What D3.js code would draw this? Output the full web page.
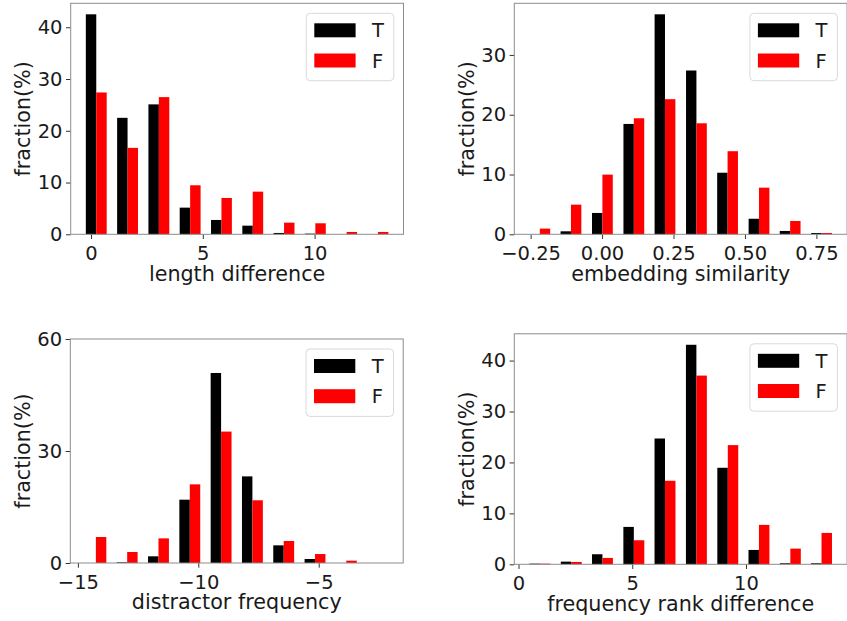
<!DOCTYPE html>
<html>
<head>
<meta charset="utf-8">
<script src="https://cdn.jsdelivr.net/npm/d3@7"></script>
<style>
  html, body { margin: 0; padding: 0; background: #fff; }
  svg { display: block; font-family: "DejaVu Sans", sans-serif; }
</style>
</head>
<body>
<svg id="chart" width="847" height="621"></svg>
<script>
// ---------------- DATA ----------------
const seriesNames = ["T", "F"];

// Panel 1: length difference
const lenLabel = "length difference";
const lenEdges = [0, 1.4, 2.8, 4.2, 5.6, 7.0, 8.4, 9.8, 11.2, 12.6];
const lenT = [42.5, 22.5, 25.1, 5.15, 2.77, 1.67, 0.26, 0.13, 0, 0];
const lenF = [27.4, 16.7, 26.5, 9.47, 7.02, 8.24, 2.25, 2.13, 0.45, 0.45];
const lenXTicks = [0, 5, 10];
const lenYTicks = [0, 10, 20, 30, 40];

// Panel 2: embedding similarity
const embLabel = "embedding similarity";
const embEdges = [-0.236, -0.127, -0.017, 0.093, 0.202, 0.312, 0.421, 0.531, 0.640, 0.750];
const embT = [0, 0.5, 3.57, 18.46, 36.8, 27.4, 10.3, 2.6, 0.56, 0.22];
const embF = [0.95, 4.96, 9.98, 19.41, 22.6, 18.57, 13.9, 7.8, 2.23, 0.22];
const embXTicks = [-0.25, 0, 0.25, 0.5, 0.75];
const embYTicks = [0, 10, 20, 30];

// Panel 3: distractor frequency
const disLabel = "distractor frequency";
const disEdges = [-14.47, -13.17, -11.87, -10.57, -9.27, -7.97, -6.67, -5.37, -4.07, -2.77];
const disT = [0, 0.18, 1.79, 16.96, 50.9, 23.2, 4.73, 1.07, 0, 0];
const disF = [6.96, 2.95, 6.6, 21.07, 35.2, 16.8, 5.9, 2.4, 0.63, 0];
const disXTicks = [-15, -10, -5];
const disYTicks = [0, 30, 60];
const disYMax = 60;

// Panel 4: frequency rank difference
const rankLabel = "frequency rank difference";
const rankEdges = [0.71, 2.09, 3.46, 4.84, 6.21, 7.59, 8.97, 10.34, 11.72, 13.09];
const rankT = [0.13, 0.52, 1.97, 7.34, 24.7, 43.1, 18.95, 2.82, 0.2, 0.2];
const rankF = [0.13, 0.46, 1.25, 4.72, 16.4, 37.05, 23.4, 7.74, 3.08, 6.16];
const rankXTicks = [0, 5, 10];
const rankYTicks = [0, 10, 20, 30, 40];

const yLabel = "fraction(%)";

// ---------------- LAYOUT / STYLE ----------------
const colors = { T: "#000000", F: "#ff0000" };
const tickFont = 19.5, labelFont = 20.7, legendFont = 19.5;

const panels = [
  { edges: lenEdges, T: lenT, F: lenF, xTicks: lenXTicks, yTicks: lenYTicks, xLabel: lenLabel,
    fmt: d3.format("d"), box: { l: 70.7, t: 3.3, r: 403.5, b: 234.3 } },
  { edges: embEdges, T: embT, F: embF, xTicks: embXTicks, yTicks: embYTicks, xLabel: embLabel,
    fmt: d3.format(".2f"), box: { l: 514.3, t: 3.3, r: 847.1, b: 234.3 } },
  { edges: disEdges, T: disT, F: disF, xTicks: disXTicks, yTicks: disYTicks, xLabel: disLabel, yMax: disYMax,
    fmt: d3.format("d"), box: { l: 70.3, t: 339, r: 403.2, b: 563 } },
  { edges: rankEdges, T: rankT, F: rankF, xTicks: rankXTicks, yTicks: rankYTicks, xLabel: rankLabel,
    fmt: d3.format("d"), box: { l: 514.3, t: 333.8, r: 847.1, b: 564.3 } }
];

const svg = d3.select("#chart");

panels.forEach(p => {
  const b = p.box;
  const step = p.edges[1] - p.edges[0];
  const w = step / 3;
  const lo = p.edges[0] - w / 2;
  const hi = p.edges[p.edges.length - 1] + 1.5 * w;
  const pad = (hi - lo) * 0.05;
  const x = d3.scaleLinear().domain([lo - pad, hi + pad]).range([b.l, b.r]);
  const maxV = d3.max(p.T.concat(p.F));
  const y = d3.scaleLinear().domain([0, p.yMax != null ? p.yMax : maxV * 1.05]).range([b.b, b.t]);

  const g = svg.append("g");

  // bars
  const data = p.edges.map((e, i) => ({ e, T: p.T[i], F: p.F[i] }));
  g.selectAll("rect.t").data(data).join("rect")
    .attr("x", d => x(d.e - w / 2))
    .attr("width", d => x(d.e + w / 2) - x(d.e - w / 2))
    .attr("y", d => y(d.T))
    .attr("height", d => y(0) - y(d.T))
    .attr("fill", colors.T);
  g.selectAll("rect.f").data(data).join("rect")
    .attr("x", d => x(d.e + w / 2))
    .attr("width", d => x(d.e + 1.5 * w) - x(d.e + w / 2))
    .attr("y", d => y(d.F))
    .attr("height", d => y(0) - y(d.F))
    .attr("fill", colors.F);

  // axes
  const xAxis = d3.axisBottom(x).tickValues(p.xTicks).tickFormat(p.fmt).tickSize(4.7).tickPadding(7.2);
  const yAxis = d3.axisLeft(y).tickValues(p.yTicks).tickFormat(d3.format("d")).tickSize(4.7).tickPadding(3.5);
  const gx = g.append("g").attr("transform", `translate(0,${b.b})`).call(xAxis);
  const gy = g.append("g").attr("transform", `translate(${b.l},0)`).call(yAxis);
  [gx, gy].forEach(ax => {
    ax.select(".domain").remove();
    ax.selectAll(".tick line").attr("stroke", "#333").attr("stroke-width", 1);
    ax.selectAll(".tick text").attr("fill", "#1a1a1a").style("font-size", tickFont + "px")
      .style("font-family", "DejaVu Sans");
  });

  // frame
  g.append("rect")
    .attr("x", b.l).attr("y", b.t)
    .attr("width", b.r - b.l).attr("height", b.b - b.t)
    .attr("fill", "none").attr("stroke", "#8c8c8c").attr("stroke-width", 1);

  // labels
  g.append("text")
    .attr("x", (b.l + b.r) / 2).attr("y", b.b + 46.4)
    .attr("text-anchor", "middle").attr("fill", "#1a1a1a")
    .style("font-size", labelFont + "px")
    .text(p.xLabel);
  g.append("text")
    .attr("transform", `translate(${b.l - 48},${(b.t + b.b) / 2}) rotate(-90)`)
    .attr("text-anchor", "middle").attr("dy", "0.35em").attr("fill", "#1a1a1a")
    .style("font-size", labelFont + "px")
    .text(yLabel);

  // legend
  const lw = 87.5, lh = 67.4;
  const lx = b.r - 9.7 - lw, ly = b.t + 10;
  const lg = g.append("g");
  lg.append("rect").attr("x", lx).attr("y", ly).attr("width", lw).attr("height", lh)
    .attr("rx", 4).attr("fill", "#fff").attr("fill-opacity", 0.8)
    .attr("stroke", "#d9d9d9").attr("stroke-width", 1);
  seriesNames.forEach((s, i) => {
    const cy = ly + 17 + i * 30.2;
    lg.append("rect").attr("x", lx + 8).attr("y", cy - 7).attr("width", 41.3).attr("height", 14)
      .attr("fill", colors[s]);
    lg.append("text").attr("x", lx + 65.7).attr("y", cy + 7.1)
      .attr("fill", "#1a1a1a").style("font-size", legendFont + "px").text(s);
  });
});
</script>
</body>
</html>
